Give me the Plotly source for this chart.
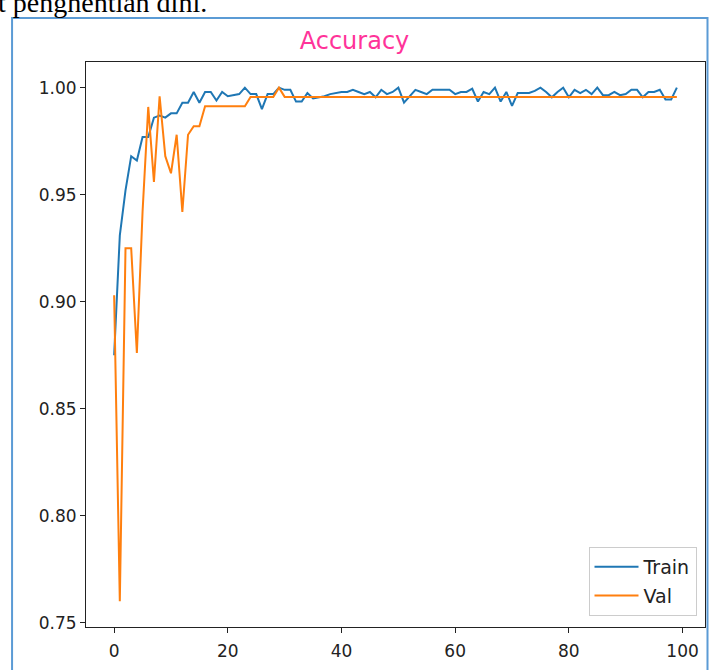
import plotly.graph_objects as go

epochs = list(range(100))

train_acc = [
    0.875, 0.931, 0.952, 0.968, 0.966, 0.977, 0.977, 0.986, 0.987, 0.986,
    0.988, 0.988, 0.993, 0.993, 0.998, 0.993, 0.998, 0.998, 0.994, 0.998,
    0.996, 0.9965, 0.997, 1.000, 0.997, 0.997, 0.990, 0.997, 0.997, 1.000,
    0.999, 0.999, 0.9935, 0.9935, 0.9975, 0.995, 0.9955, 0.996, 0.997, 0.9975,
    0.998, 0.998, 0.999, 0.998, 0.997, 0.998, 0.9955, 0.999, 0.997, 0.998,
    1.000, 0.993, 0.996, 0.999, 0.998, 0.997, 0.999, 0.999, 0.999, 0.999,
    0.997, 0.998, 0.998, 0.9995, 0.9935, 0.998, 0.997, 1.000, 0.9935, 0.998,
    0.9915, 0.9975, 0.9975, 0.9975, 0.9985, 1.000, 0.998, 0.9955, 0.998, 1.000,
    0.9955, 0.999, 0.9975, 0.999, 0.997, 1.000, 0.9965, 0.9965, 0.998, 0.9965,
    0.997, 0.999, 0.999, 0.9955, 0.998, 0.998, 0.999, 0.9945, 0.9945, 1.000,
]

val_acc = [
    0.903, 0.760, 0.925, 0.925, 0.876, 0.942, 0.991, 0.956, 0.996, 0.968,
    0.960, 0.978, 0.942, 0.978, 0.982, 0.982, 0.9913, 0.9913, 0.9913, 0.9913,
    0.9913, 0.9913, 0.9913, 0.9913, 0.9957, 0.9957, 0.9957, 0.9957, 0.9957, 1.000,
] + [0.9957] * 70

x_ticks = [0, 20, 40, 60, 80, 100]
y_ticks = [0.75, 0.80, 0.85, 0.90, 0.95, 1.00]

title_text = "Accuracy"
series_names = ["Train", "Val"]
header_text = "t penghentian dini."

W, H = 709, 670
L, R, T, B = 86, 705.5, 62, 627
pw, ph = R - L, B - T


def px(xp):
    return (xp - L) / pw


def py(yp):
    return (B - yp) / ph


fig = go.Figure()
fig.add_trace(go.Scatter(x=epochs, y=train_acc, mode="lines", name=series_names[0],
                         legendgroup="a", line=dict(color="#1f77b4", width=2)))
fig.add_trace(go.Scatter(x=epochs, y=val_acc, mode="lines", name=series_names[1],
                         legendgroup="b", line=dict(color="#ff7f0e", width=2)))

axis_font = dict(family="DejaVu Sans", size=17, color="#222222")

fig.update_layout(
    width=W, height=H,
    margin=dict(l=L, r=W - R, t=T, b=H - B, pad=0),
    paper_bgcolor="white", plot_bgcolor="white",
    font=dict(family="DejaVu Sans", size=17, color="#222222"),
    title=dict(text=title_text, x=px((L + R) / 2), xanchor="center",
               y=1 - 41 / H, yanchor="middle", yref="container",
               font=dict(family="DejaVu Sans", size=24, color="#ff3399")),
    showlegend=True,
    legend=dict(x=px(697), y=py(616), xanchor="right", yanchor="bottom",
                bgcolor="rgba(255,255,255,0.8)", bordercolor="#cccccc", borderwidth=1,
                font=dict(family="DejaVu Sans", size=19, color="#222222"),
                itemwidth=44, entrywidth=110, traceorder="grouped", tracegroupgap=1),
    xaxis=dict(range=[-4.95, 103.95], tickvals=x_ticks, ticks="outside", ticklen=5,
               tickwidth=1, tickcolor="#222222", showgrid=False, zeroline=False,
               showline=True, mirror=True, linecolor="#222222", linewidth=1,
               tickfont=axis_font, ticklabelstandoff=4),
    yaxis=dict(range=[0.748, 1.012], tickvals=y_ticks, tickformat=".2f", ticks="outside",
               ticklen=5, tickwidth=1, tickcolor="#222222", showgrid=False, zeroline=False,
               showline=True, mirror=True, linecolor="#222222", linewidth=1,
               tickfont=axis_font),
    shapes=[dict(type="rect", xref="paper", yref="paper",
                 x0=px(12), x1=px(708), y0=py(690), y1=py(18),
                 line=dict(color="#5b9bd5", width=2), fillcolor="rgba(0,0,0,0)", layer="below")],
    annotations=[dict(text=header_text, xref="paper", yref="paper",
                      x=px(-4), y=py(20), xanchor="left", yanchor="bottom",
                      showarrow=False,
                      font=dict(family="Liberation Serif", size=28, color="black"))],
)

fig.write_html("out.html", config={"displayModeBar": False},
               post_script="document.body.style.margin='0';")
